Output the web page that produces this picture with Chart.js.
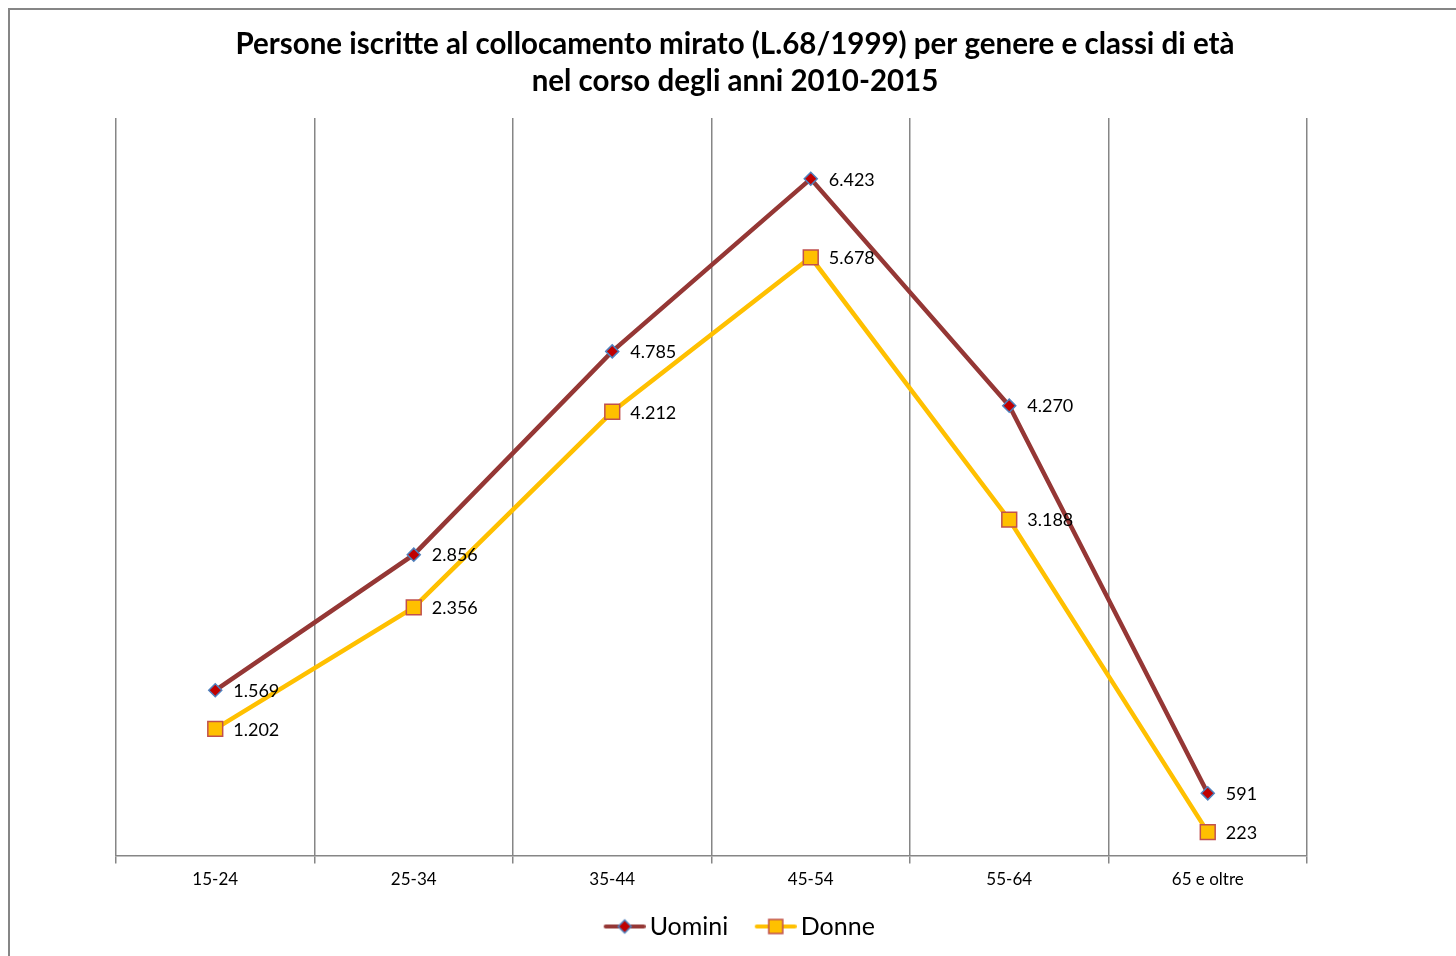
<!DOCTYPE html>
<html>
<head>
<meta charset="utf-8">
<script src="https://cdn.jsdelivr.net/npm/chart.js@4/dist/chart.umd.min.js"></script>
<style>
  html, body { margin: 0; padding: 0; background: #fff; }
  #wrap { position: absolute; left: 0; top: 0; width: 1456px; height: 956px; }
</style>
</head>
<body>
<div id="wrap"><canvas id="c" width="1456" height="956"></canvas></div>
<script>
const categories = ['15-24', '25-34', '35-44', '45-54', '55-64', '65 e oltre'];
const uomini = [1569, 2856, 4785, 6423, 4270, 591];
const donne = [1202, 2356, 4212, 5678, 3188, 223];
const yTicks = { min: 0, max: 7000 };

const FONT = 'Lato, "Open Sans", sans-serif';
const LEGEND_SIZE = 25;

function fmt(v) {
  return String(v).replace(/\B(?=(\d{3})+(?!\d))/g, '.');
}

// legend symbol: a short line with the series marker in the middle,
// shifted right so the line sits close to the label text
function legendIcon(lineColor, shape, fill, stroke) {
  const d = 8.5;
  const c = document.createElement('canvas');
  c.width = 42 + 2 * d; c.height = 18;
  const g = c.getContext('2d');
  g.translate(2 * d, 0);
  g.strokeStyle = lineColor; g.lineWidth = 4; g.lineCap = 'round';
  g.beginPath(); g.moveTo(2, 9); g.lineTo(40, 9); g.stroke();
  g.fillStyle = fill; g.strokeStyle = stroke; g.lineWidth = 1.5;
  g.beginPath();
  if (shape === 'diamond') {
    g.moveTo(21, 2.5); g.lineTo(27.5, 9); g.lineTo(21, 15.5); g.lineTo(14.5, 9); g.closePath();
  } else {
    g.rect(14, 2, 14, 14);
  }
  g.fill(); g.stroke();
  return c;
}

// outer frame of the chart box (top and left edges)
const frame = {
  id: 'frame',
  beforeDraw(chart) {
    const ctx = chart.ctx;
    ctx.save();
    ctx.fillStyle = '#fff';
    ctx.fillRect(0, 0, chart.width, chart.height);
    ctx.strokeStyle = '#868686';
    ctx.lineWidth = 2;
    ctx.beginPath();
    ctx.moveTo(9, chart.height);
    ctx.lineTo(9, 9);
    ctx.lineTo(chart.width, 9);
    ctx.stroke();
    ctx.restore();
  }
};

// value labels to the right of each point
const valueLabels = {
  id: 'valueLabels',
  afterDatasetsDraw(chart) {
    const ctx = chart.ctx;
    ctx.save();
    ctx.font = '18px ' + FONT;
    ctx.fillStyle = '#000';
    ctx.textAlign = 'left';
    ctx.textBaseline = 'middle';
    chart.data.datasets.forEach((ds, i) => {
      const meta = chart.getDatasetMeta(i);
      meta.data.forEach((pt, j) => {
        ctx.fillText(fmt(ds.data[j]), pt.x + 18, pt.y + 1);
      });
    });
    ctx.restore();
  }
};

new Chart(document.getElementById('c'), {
  type: 'line',
  data: {
    labels: categories,
    datasets: [
      {
        label: 'Uomini',
        data: uomini,
        borderColor: '#953735',
        borderWidth: 4.5,
        pointStyle: 'rectRot',
        pointRadius: 6.5,
        pointBackgroundColor: '#C00000',
        pointBorderColor: '#4F81BD',
        pointBorderWidth: 1.5,
        tension: 0,
        fill: false
      },
      {
        label: 'Donne',
        data: donne,
        borderColor: '#FFC000',
        borderWidth: 4.5,
        pointStyle: 'rect',
        pointRadius: 10.5,
        pointBackgroundColor: '#FFC000',
        pointBorderColor: '#C0504D',
        pointBorderWidth: 1.5,
        tension: 0,
        fill: false
      }
    ]
  },
  options: {
    responsive: false,
    animation: false,
    devicePixelRatio: 1,
    layout: { padding: { left: 116, right: 102, top: 8, bottom: 7 } },
    plugins: {
      title: {
        display: true,
        text: ['Persone iscritte al collocamento mirato (L.68/1999) per genere e classi di età',
               'nel corso degli anni 2010-2015'],
        color: '#000',
        font: { family: FONT, size: 29.5, weight: 'bold', lineHeight: 37 / 29.5 },
        padding: { top: 17.5, bottom: 18.5 }
      },
      legend: {
        position: 'bottom',
        labels: {
          usePointStyle: true,
          pointStyleWidth: 42,
          boxHeight: 18,
          color: '#000',
          font: { family: FONT, size: LEGEND_SIZE },
          padding: 18,
          generateLabels() {
            return [
              { text: 'Uomini', pointStyle: legendIcon('#953735', 'diamond', '#C00000', '#4F81BD'), fontColor: '#000', lineWidth: 0, strokeStyle: 'transparent', fillStyle: 'transparent', datasetIndex: 0 },
              { text: 'Donne', pointStyle: legendIcon('#FFC000', 'square', '#FFC000', '#C0504D'), fontColor: '#000', lineWidth: 0, strokeStyle: 'transparent', fillStyle: 'transparent', datasetIndex: 1 }
            ];
          }
        }
      },
      tooltip: { enabled: false }
    },
    scales: {
      x: {
        offset: true,
        grid: { offset: true, color: '#868686', lineWidth: 1.5, tickLength: 8, drawTicks: true },
        border: { color: '#868686', width: 1.5 },
        ticks: { color: '#000', font: { family: FONT, size: 17 }, padding: 6 }
      },
      y: {
        position: 'right',
        min: yTicks.min,
        max: yTicks.max,
        grid: { display: false },
        border: { display: false },
        ticks: { display: false },
        afterFit(scale) { scale.width = 47; }
      }
    }
  },
  plugins: [frame, valueLabels]
});
</script>
</body>
</html>
